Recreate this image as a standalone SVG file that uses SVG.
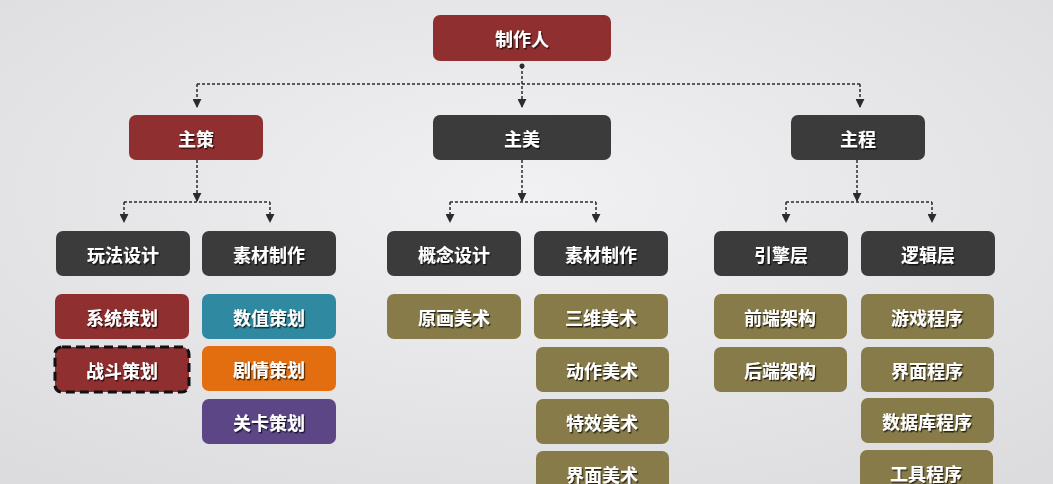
<svg xmlns="http://www.w3.org/2000/svg" width="1053" height="484" viewBox="0 0 1053 484">
<defs>
<radialGradient id="bg" cx="50%" cy="40%" r="75%">
<stop offset="0" stop-color="#f1f1f3"/>
<stop offset="1" stop-color="#dcdcdf"/>
</radialGradient>
<filter id="ts" x="-10%" y="-20%" width="130%" height="150%">
<feDropShadow dx="1.2" dy="1.5" stdDeviation="0.6" flood-color="#000" flood-opacity="0.7"/>
</filter>
<marker id="ah" viewBox="0 0 10 10" refX="9" refY="5" markerWidth="9" markerHeight="9" markerUnits="userSpaceOnUse" orient="auto">
<path d="M0,0 L10,5 L0,10 Z" fill="#2b2b2b"/>
</marker>
</defs>
<style>
text{font-family:"Noto Sans CJK SC","Noto Sans",sans-serif;font-weight:bold;font-size:18px;fill:#fff;text-anchor:middle;dominant-baseline:central;filter:url(#ts)}
.red{fill:#902f2f}
.dark{fill:#3b3b3c}
.teal{fill:#2f89a0}
.orange{fill:#e36e10}
.purple{fill:#5c4686}
.olive{fill:#877b49}
.c{fill:none;stroke:#2b2b2b;stroke-width:1.5;stroke-dasharray:3 2}
.ca{fill:none;stroke:#2b2b2b;stroke-width:1.5;stroke-dasharray:3 2;marker-end:url(#ah)}
</style>
<rect width="1053" height="484" fill="url(#bg)"/>

<g id="connectors">
<circle cx="522" cy="66" r="2.5" fill="#2b2b2b"/>
<path class="ca" d="M522,66 V107"/>
<path class="c" d="M197,84 H860"/>
<path class="ca" d="M197,84 V107"/>
<path class="ca" d="M860,84 V107"/>

<path class="ca" d="M197,160 V201"/>
<path class="c" d="M124,202 H270"/>
<path class="ca" d="M124,202 V222"/>
<path class="ca" d="M270,202 V222"/>

<path class="ca" d="M522,160 V201"/>
<path class="c" d="M450,202 H596"/>
<path class="ca" d="M450,202 V222"/>
<path class="ca" d="M596,202 V222"/>

<path class="ca" d="M857,160 V201"/>
<path class="c" d="M786,202 H932"/>
<path class="ca" d="M786,202 V222"/>
<path class="ca" d="M932,202 V222"/>
</g>

<g id="n-producer"><rect class="red" x="433" y="15" width="178" height="46" rx="7"/><text x="522" y="38">制作人</text></g>
<g id="n-zhuce"><rect class="red" x="129" y="115" width="134" height="45" rx="7"/><text x="196" y="137.5">主策</text></g>
<g id="n-zhumei"><rect class="dark" x="433" y="115" width="178" height="45" rx="7"/><text x="522" y="137.5">主美</text></g>
<g id="n-zhucheng"><rect class="dark" x="791" y="115" width="134" height="45" rx="7"/><text x="858" y="137.5">主程</text></g>

<g id="n-wanfa"><rect class="dark" x="56" y="231" width="134" height="45" rx="7"/><text x="123" y="253.5">玩法设计</text></g>
<g id="n-sucai1"><rect class="dark" x="202" y="231" width="134" height="45" rx="7"/><text x="269" y="253.5">素材制作</text></g>
<g id="n-gainian"><rect class="dark" x="387" y="231" width="134" height="45" rx="7"/><text x="454" y="253.5">概念设计</text></g>
<g id="n-sucai2"><rect class="dark" x="534" y="231" width="134" height="45" rx="7"/><text x="601" y="253.5">素材制作</text></g>
<g id="n-yinqing"><rect class="dark" x="714" y="231" width="134" height="45" rx="7"/><text x="781" y="253.5">引擎层</text></g>
<g id="n-luoji"><rect class="dark" x="861" y="231" width="134" height="45" rx="7"/><text x="928" y="253.5">逻辑层</text></g>

<g id="n-xitong"><rect class="red" x="55" y="294" width="134" height="45" rx="7"/><text x="122" y="316.5">系统策划</text></g>
<g id="n-zhandou"><rect class="red" x="55" y="347" width="134" height="45" rx="7" stroke="#111" stroke-width="3" stroke-dasharray="9 5"/><text x="122" y="369.5">战斗策划</text></g>
<g id="n-shuzhi"><rect class="teal" x="202" y="294" width="134" height="45" rx="7"/><text x="269" y="316.5">数值策划</text></g>
<g id="n-juqing"><rect class="orange" x="202" y="346" width="134" height="45" rx="7"/><text x="269" y="368.5">剧情策划</text></g>
<g id="n-guanka"><rect class="purple" x="202" y="399" width="134" height="45" rx="7"/><text x="269" y="421.5">关卡策划</text></g>

<g id="n-yuanhua"><rect class="olive" x="387" y="294" width="134" height="45" rx="7"/><text x="454" y="316.5">原画美术</text></g>
<g id="n-sanwei"><rect class="olive" x="534" y="294" width="134" height="45" rx="7"/><text x="601" y="316.5">三维美术</text></g>
<g id="n-dongzuo"><rect class="olive" x="536" y="347" width="133" height="45" rx="7"/><text x="602" y="369.5">动作美术</text></g>
<g id="n-texiao"><rect class="olive" x="536" y="399" width="133" height="45" rx="7"/><text x="602" y="421.5">特效美术</text></g>
<g id="n-jiemianmeishu"><rect class="olive" x="536" y="451" width="133" height="45" rx="7"/><text x="602" y="473.5">界面美术</text></g>

<g id="n-qianduan"><rect class="olive" x="714" y="294" width="133" height="45" rx="7"/><text x="780" y="316.5">前端架构</text></g>
<g id="n-houduan"><rect class="olive" x="714" y="347" width="133" height="45" rx="7"/><text x="780" y="369.5">后端架构</text></g>
<g id="n-youxi"><rect class="olive" x="861" y="294" width="133" height="45" rx="7"/><text x="927" y="316.5">游戏程序</text></g>
<g id="n-jiemian"><rect class="olive" x="861" y="347" width="133" height="45" rx="7"/><text x="927" y="369.5">界面程序</text></g>
<g id="n-shujuku"><rect class="olive" x="861" y="398" width="133" height="45" rx="7"/><text x="927" y="420.5">数据库程序</text></g>
<g id="n-gongju"><rect class="olive" x="860" y="450" width="133" height="45" rx="7"/><text x="926" y="472.5">工具程序</text></g>
</svg>
